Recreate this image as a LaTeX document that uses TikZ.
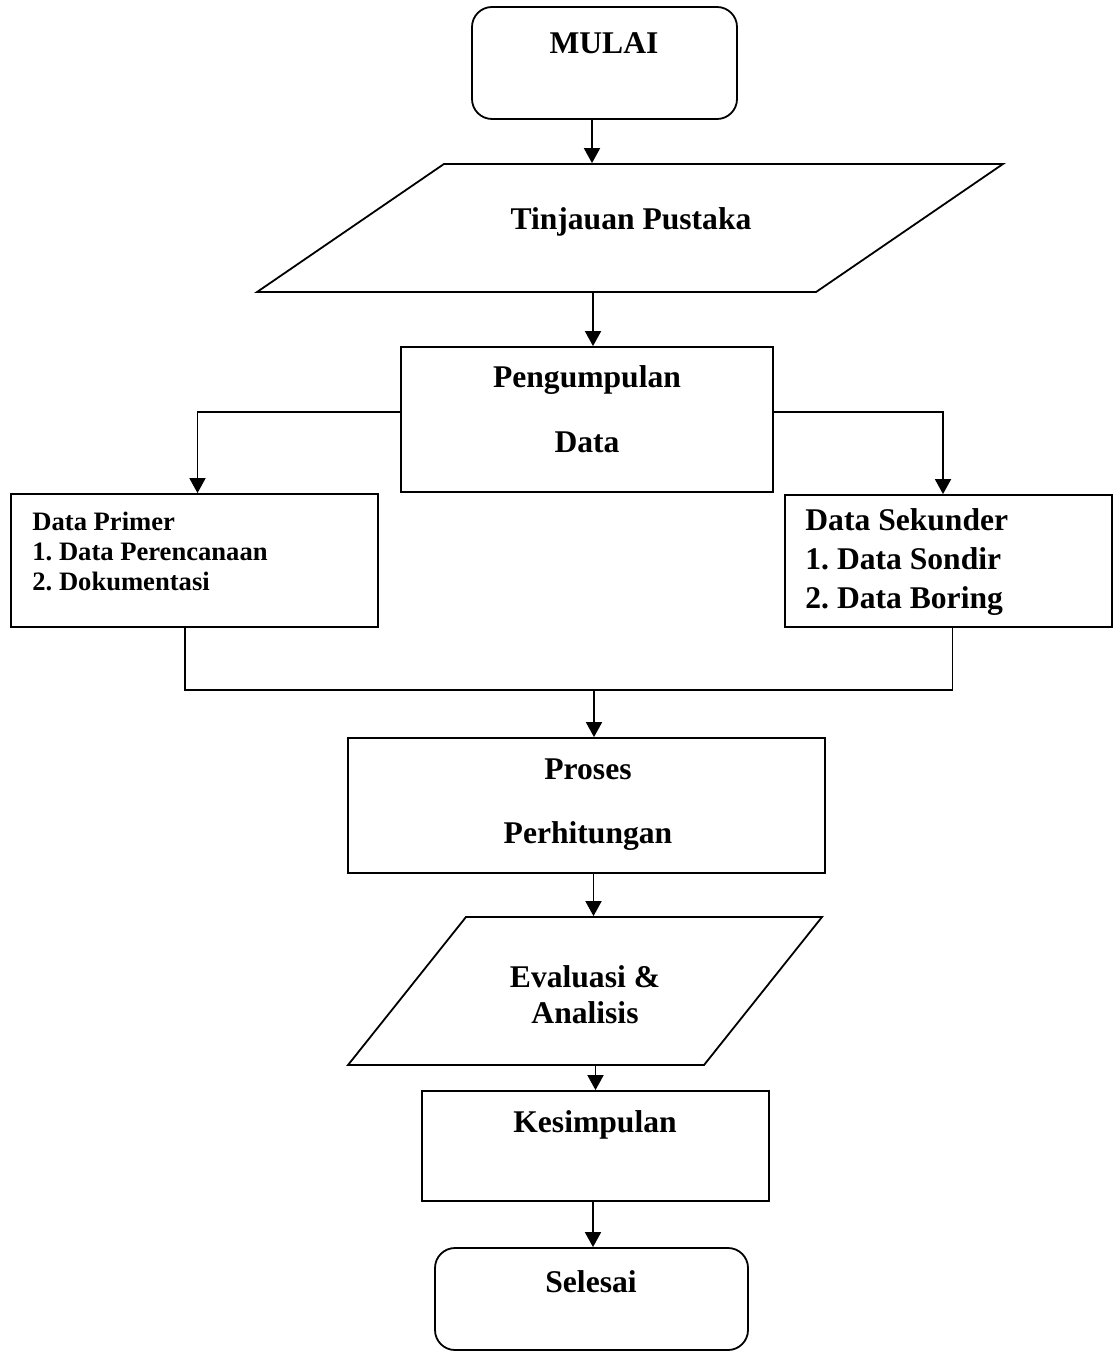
\documentclass[tikz,border=0pt]{standalone}
\usepackage{fontspec}
\setmainfont{Liberation Serif}
\frenchspacing
\usetikzlibrary{arrows.meta,calc}
\tikzset{
  box/.style={draw,line width=.9pt,inner sep=0pt},
  termbox/.style={box,rounded corners=10pt},
  iobox/.style={box,xslant=#1,transform shape},
  lbl/.style={font=\bfseries\fontsize{15.8}{#1}\selectfont,anchor=base,align=center,inner sep=0pt},
  lbl/.default=19,
  lblsmall/.style={font=\bfseries\fontsize{13.3}{15}\selectfont,anchor=base west,align=left,inner sep=0pt},
  link/.style={line width=.9pt},
  flow/.style={link,-{Triangle[length=7.5pt,width=8pt]}}
}

\begin{document}
\begin{tikzpicture}[x=.5pt,y=-.5pt]
  \useasboundingbox (0,0) rectangle (1114,1353);
  % shapes
  \node[termbox,minimum width=132.5pt,minimum height=56pt] (mulai) at (604.5,63) {};
  \node[iobox=1.46,minimum width=279.5pt,minimum height=64pt] (tinjauan) at (630,228) {};
  \node[box,minimum width=186pt,minimum height=72.5pt] (kumpul) at (587,419.5) {};
  \node[box,minimum width=183.5pt,minimum height=66.5pt] (primer) at (194.5,560.5) {};
  \node[box,minimum width=163.5pt,minimum height=66pt] (sekunder) at (948.5,561) {};
  \node[box,minimum width=238.5pt,minimum height=67.5pt] (proses) at (586.5,805.5) {};
  \node[iobox=0.797,minimum width=178pt,minimum height=74pt] (evaluasi) at (585,991) {};
  \node[box,minimum width=173.5pt,minimum height=55pt] (simpul) at (595.5,1146) {};
  \node[termbox,minimum width=156.5pt,minimum height=51pt] (selesai) at (591.5,1299) {};
  % texts (base = last line)
  \node[lbl] (t-mulai) at (604,54) {MULAI};
  \node[lbl] (t-tinjauan) at (631,230) {Tinjauan Pustaka};
  \node[lbl=32.5] (t-kumpul) at (587,452) {Pengumpulan\\Data};
  \node[lblsmall] (t-primer) at (32,590) {Data Primer\\1. Data Perencanaan\\2. Dokumentasi};
  \node[lbl=19.5,anchor=base west,align=left] (t-sekunder) at (805,608) {Data Sekunder\\1. Data Sondir\\2. Data Boring};
  \node[lbl=32] (t-proses) at (588,843) {Proses\\Perhitungan};
  \node[lbl=18] (t-evaluasi) at (585,1023) {Evaluasi \&\\Analisis};
  \node[lbl] (t-simpul) at (595,1132) {Kesimpulan};
  \node[lbl] (t-selesai) at (591,1292) {Selesai};
  % connectors
  \draw[flow] ([xshift=-6.25pt]mulai.south) -- ([xshift=-6.25pt]mulai.south |- tinjauan.north);
  \draw[flow] ([xshift=3pt]kumpul.north |- tinjauan.south) -- ([xshift=3pt]kumpul.north);
  \draw[flow] ([yshift=3.75pt]kumpul.west) -| ([xshift=1.5pt]primer.north);
  \draw[flow] ([yshift=3.75pt]kumpul.east) -| ([xshift=-2.75pt]sekunder.north);
  \coordinate (gabung) at ([xshift=3.75pt,yshift=23.5pt]proses.north);
  \draw[link] ([xshift=-4.75pt]primer.south) |- (gabung) -| ([xshift=2pt]sekunder.south);
  \draw[flow] (gabung) -- (gabung |- proses.north);
  \draw[flow] ([xshift=3.5pt]proses.south) -- ([xshift=3.5pt]proses.south |- evaluasi.north);
  \draw[flow] (simpul.north |- evaluasi.south) -- (simpul.north);
  \draw[flow] ([xshift=-1.25pt]simpul.south) -- ([xshift=-1.25pt]simpul.south |- selesai.north);
\end{tikzpicture}
\end{document}
